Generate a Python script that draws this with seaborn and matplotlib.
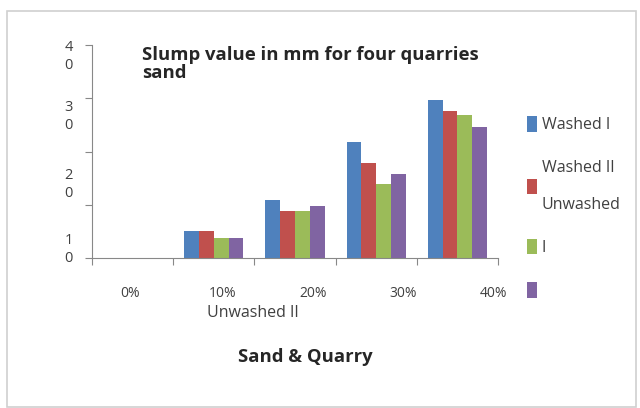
import numpy as np
import pandas as pd
import seaborn as sns
import matplotlib.pyplot as plt
from matplotlib.patches import Rectangle

# veri
categories = ["0%", "10%", "20%", "30%", "40%"]
washed_1 = [0, 5.0, 10.9, 21.8, 29.6]
washed_2 = [0, 5.0, 8.8, 17.8, 27.6]
unwashed_1 = [0, 3.8, 8.8, 13.9, 26.9]
unwashed_2 = [0, 3.8, 9.8, 15.7, 24.6]
series_names = ["Washed I", "Washed II", "Unwashed I", "Unwashed II"]
legend_labels = ["Washed I", "Washed II\n\nUnwashed", "I", " "]
y_ticks = [0, 10, 20, 30, 40]
y_label_pos = [2.3, 14.5, 27.2, 38.5]
y_label_txt = ["1\n0", "2\n0", "3\n0", "4\n0"]
x_label_pos = [-0.03, 1.11, 2.22, 3.33, 4.44]

colors = ["#4F81BD", "#C0504D", "#9BBB59", "#8064A2"]

df = pd.DataFrame({
    "Sand": categories * 4,
    "Series": np.repeat(series_names, len(categories)),
    "Slump": washed_1 + washed_2 + unwashed_1 + unwashed_2,
})

sns.set_style("white")
plt.rcParams["font.family"] = ["Open Sans", "DejaVu Sans"]

fig = plt.figure(figsize=(6.4, 4.08), dpi=100)
ax = fig.add_axes([92 / 640, 1 - 258 / 408, 406 / 640, 213 / 408])

sns.barplot(data=df, x="Sand", y="Slump", hue="Series", palette=colors,
            width=0.73, gap=0, ax=ax, legend=True, saturation=1,
            linewidth=0, edgecolor="none")

ax.set_xlim(-0.5, 4.5)
ax.set_ylim(0, 40)
for s in ["top", "right"]:
    ax.spines[s].set_visible(False)
for s in ["left", "bottom"]:
    ax.spines[s].set_color("#888888")
    ax.spines[s].set_linewidth(0.8)

# eksen tikleri
ax.set_yticks(y_ticks)
ax.set_yticklabels([""] * len(y_ticks))
ax.set_yticks(y_label_pos, minor=True)
ax.set_yticklabels(y_label_txt, minor=True, fontsize=10.5, color="#404040",
                   linespacing=1.3)
ax.tick_params(axis="y", which="major", length=5, color="#888888", left=True)
ax.tick_params(axis="y", which="minor", length=0, pad=14)

ax.set_xticks(np.arange(-0.5, 5, 1))
ax.set_xticklabels([""] * 6)
ax.set_xticks(x_label_pos, minor=True)
ax.set_xticklabels(categories, minor=True, fontsize=10, color="#404040")
ax.tick_params(axis="x", which="major", length=5, color="#888888", bottom=True)
ax.tick_params(axis="x", which="minor", length=0, pad=20)
ax.set_xlabel("")
ax.set_ylabel("")

# lejant
handles, _ = ax.get_legend_handles_labels()
ax.legend_.remove()
fig.legend(handles, legend_labels, loc="upper left",
           bbox_to_anchor=(513 / 640, 1 - 102 / 408), frameon=False,
           fontsize=11.5, handlelength=0.6, handleheight=1.1, handletextpad=0.3,
           labelspacing=1.65, labelcolor="#404040")

fig.text(207 / 640, 1 - 313 / 408, "Unwashed II", fontsize=11.5,
         color="#404040", va="center")

fig.text(142 / 640, 1 - 46 / 408, "Slump value in mm for four quarries\nsand",
         fontsize=13.3, fontweight="bold", va="top", linespacing=1.0)

fig.text(305 / 640, 1 - 357 / 408, "Sand & Quarry", fontsize=13.3,
         fontweight="bold", ha="center", va="center")

fig.patches.append(Rectangle((7 / 640, 1 - 407 / 408), 629 / 640, 396 / 408,
                             transform=fig.transFigure, fill=False,
                             edgecolor="#d0d0d0", linewidth=1.2))

fig.savefig("out.png", dpi=100)
